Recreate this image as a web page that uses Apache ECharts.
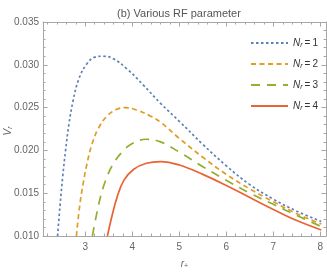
<!DOCTYPE html>
<html><head><meta charset="utf-8">
<script src="https://cdn.jsdelivr.net/npm/echarts@6/dist/echarts.min.js"></script>
<style>html,body{margin:0;padding:0;background:#fff}#c{width:327px;height:273px}</style>
</head><body><div id="c"></div>
<script>
// Data (r+ , V_r)
const rN1 = [2.41, 2.46, 2.52, 2.58, 2.65, 2.74, 2.86, 3.03, 3.21, 3.39, 3.60, 3.89, 4.24, 4.60, 5.00, 5.50, 6.00, 6.50, 7.00, 7.50, 8.02];
const vN1 = [0.0100, 0.0134, 0.0170, 0.0200, 0.0230, 0.0258, 0.0283, 0.0301, 0.0309, 0.0310, 0.0307, 0.0295, 0.0276, 0.0255, 0.0234, 0.0207, 0.0182, 0.0160, 0.0143, 0.0129, 0.0117];
const rN2 = [2.81, 2.88, 2.95, 3.03, 3.14, 3.28, 3.46, 3.67, 3.85, 4.10, 4.39, 4.60, 5.00, 5.50, 6.00, 6.50, 7.00, 7.50, 8.02];
const vN2 = [0.0100, 0.0135, 0.0160, 0.0183, 0.0207, 0.0226, 0.0240, 0.0248, 0.0250, 0.0247, 0.0240, 0.0233, 0.0214, 0.0192, 0.0172, 0.0155, 0.0140, 0.0126, 0.0114];
const rN3 = [3.15, 3.22, 3.32, 3.42, 3.57, 3.78, 4.00, 4.30, 4.60, 5.00, 5.50, 6.00, 6.50, 7.00, 7.50, 8.02];
const vN3 = [0.0100, 0.0120, 0.0145, 0.0163, 0.0182, 0.0198, 0.0208, 0.0213, 0.0210, 0.0198, 0.0181, 0.0165, 0.0150, 0.0137, 0.0124, 0.0111];
const rN4 = [3.47, 3.57, 3.68, 3.82, 4.03, 4.30, 4.60, 5.00, 5.50, 6.00, 6.50, 7.00, 7.50, 8.02];
const vN4 = [0.0100, 0.0124, 0.0146, 0.0165, 0.0178, 0.0185, 0.0187, 0.0183, 0.0172, 0.0159, 0.0145, 0.0131, 0.0118, 0.0107];
const seriesNames = ['1', '2', '3', '4'];
const xMajor = [3, 4, 5, 6, 7, 8];
const xMinor = [2.2, 2.4, 2.6, 2.8, 3.2, 3.4, 3.6, 3.8, 4.2, 4.4, 4.6, 4.8, 5.2, 5.4, 5.6, 5.8, 6.2, 6.4, 6.6, 6.8, 7.2, 7.4, 7.6, 7.8];
const yMajor = [0.010, 0.015, 0.020, 0.025, 0.030, 0.035];
const yMinor = [0.011, 0.012, 0.013, 0.014, 0.016, 0.017, 0.018, 0.019, 0.021, 0.022, 0.023, 0.024, 0.026, 0.027, 0.028, 0.029, 0.031, 0.032, 0.033, 0.034];

const FONT = "'Liberation Sans', sans-serif";
const FRAME = '#a6a6a6';
const TXT = '#666666';
const colors = ['#5E81B5', '#E19C24', '#8FB032', '#EB6235'];
const dashes = [[2.5, 2.5], [5, 3.5], [9, 7], 'solid'];

const X_MIN = 2.1, X_MAX = 8.12, Y_MIN = 0.010, Y_MAX = 0.035;

function xAx(pos, ticks, len, labels, line) {
  return {
    type: 'value', position: pos, min: X_MIN, max: X_MAX, gridIndex: 0,
    axisLine: {show: line, lineStyle: {color: FRAME, width: 1}},
    axisTick: {show: true, inside: true, length: len, customValues: ticks, lineStyle: {color: FRAME, width: 1}},
    axisLabel: labels ? {show: true, customValues: ticks, color: TXT, fontFamily: FONT, fontSize: 10, margin: 6} : {show: false},
    splitLine: {show: false}
  };
}
function yAx(pos, ticks, len, labels, line) {
  return {
    type: 'value', position: pos, min: Y_MIN, max: Y_MAX, gridIndex: 0,
    axisLine: {show: line, lineStyle: {color: FRAME, width: 1}},
    axisTick: {show: true, inside: true, length: len, customValues: ticks, lineStyle: {color: FRAME, width: 1}},
    axisLabel: labels ? {show: true, customValues: ticks, color: TXT, fontFamily: FONT, fontSize: 10, margin: 4,
      formatter: v => v.toFixed(3)} : {show: false},
    splitLine: {show: false}
  };
}

const xAxes = [xAx('bottom', xMajor, 4.5, true, true), xAx('bottom', xMinor, 2.5, false, false),
               xAx('top', xMajor, 4.5, false, true), xAx('top', xMinor, 2.5, false, false)];
xAxes[0].name = '{i|r}{s|+}';
xAxes[0].nameLocation = 'middle';
xAxes[0].nameGap = 22;
xAxes[0].nameTextStyle = {rich: {
  i: {fontFamily: FONT, fontStyle: 'italic', fontSize: 10, color: TXT},
  s: {fontFamily: FONT, fontSize: 7, color: TXT, padding: [5, 0, 0, 0]}
}};
const yAxes = [yAx('left', yMajor, 4.5, true, true), yAx('left', yMinor, 2.5, false, false),
               yAx('right', yMajor, 4.5, false, true), yAx('right', yMinor, 2.5, false, false)];

const rs = [rN1, rN2, rN3, rN4], vs = [vN1, vN2, vN3, vN4];
const series = seriesNames.map((n, i) => ({
  name: n, type: 'line', xAxisIndex: 0, yAxisIndex: 0,
  data: rs[i].map((r, k) => [r, vs[i][k]]),
  showSymbol: false, symbol: 'none', smooth: 0.4,
  lineStyle: {color: colors[i], width: 1.7, type: dashes[i]},
  itemStyle: {color: colors[i]},
  clip: true, silent: true
}));

const chart = echarts.init(document.getElementById('c'), null, {renderer: 'canvas'});
chart.setOption({
  animation: false,
  backgroundColor: '#fff',
  title: {text: '(b) Various RF parameter', left: 112, top: 3,
    textStyle: {fontFamily: FONT, fontSize: 11, fontWeight: 'normal', color: '#555'}},
  grid: {left: 43, top: 22, width: 283, height: 214, containLabel: false, outerBoundsMode: 'none'},
  xAxis: xAxes, yAxis: yAxes,
  graphic: [{
    type: 'text', x: 8, y: 131, rotation: Math.PI / 2, silent: true,
    style: {
      text: '{i|V}{s|r}', align: 'center', verticalAlign: 'middle', fill: TXT,
      rich: {
        i: {fontFamily: FONT, fontStyle: 'italic', fontSize: 10, fill: TXT},
        s: {fontFamily: FONT, fontStyle: 'italic', fontSize: 7, fill: TXT, padding: [5, 0, 0, 0]}
      }
    }
  }],
  legend: {
    show: true,
    orient: 'vertical', left: 245, top: 33, itemWidth: 37, itemHeight: 10, itemGap: 10.5,
    data: seriesNames,
    itemStyle: {color: 'rgba(0,0,0,0)', borderColor: 'rgba(0,0,0,0)', borderWidth: 0, opacity: 0},
    formatter: n => '{n|N}{s|r}{e|=}{d|' + n + '}',
    textStyle: {color: '#333', fontFamily: FONT, fontSize: 10, rich: {
      n: {fontFamily: FONT, fontStyle: 'italic', fontSize: 10, color: '#333'},
      s: {fontFamily: FONT, fontStyle: 'italic', fontSize: 7, color: '#333', padding: [4, 0, 0, 0]},
      e: {fontFamily: FONT, fontSize: 10, color: '#333', padding: [0, 2, 0, 2]},
      d: {fontFamily: FONT, fontSize: 10, color: '#333'}
    }}
  },
  series: series
});
</script></body></html>
